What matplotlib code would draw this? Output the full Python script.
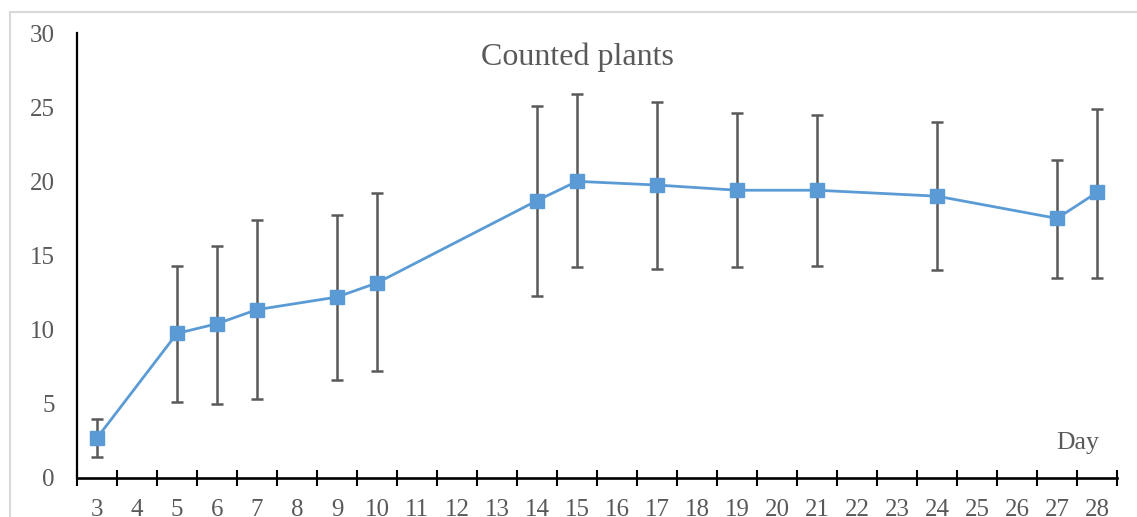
import matplotlib
matplotlib.use("Agg")
import matplotlib.pyplot as plt
from matplotlib.patches import Rectangle
from matplotlib.ticker import FixedLocator

# ---- data ----
categories = [str(d) for d in range(3, 29)]
days = [3, 5, 6, 7, 9, 10, 14, 15, 17, 19, 21, 24, 27, 28]
mean_plants = [2.7, 9.75, 10.4, 11.35, 12.2, 13.15, 18.7, 20.0, 19.75, 19.4, 19.4, 19.0, 17.5, 19.25]
upper_plants = [3.95, 14.3, 15.65, 17.4, 17.75, 19.2, 25.1, 25.9, 25.35, 24.6, 24.5, 24.0, 21.45, 24.85]
lower_plants = [1.4, 5.1, 5.0, 5.3, 6.6, 7.2, 12.3, 14.2, 14.1, 14.2, 14.3, 14.0, 13.5, 13.5]
y_ticks = [0, 5, 10, 15, 20, 25, 30]
title_text = "Counted plants"
x_label_text = "Day"

# ---- style ----
FONT = ["Liberation Serif", "DejaVu Serif"]
TEXT_COLOR = "#595959"
LINE_COLOR = "#5B9BD5"
ERR_COLOR = "#595959"

W, H, DPI = 1137, 517, 100
fig = plt.figure(figsize=(W / DPI, H / DPI), dpi=DPI)
fig.patch.set_facecolor("white")

# outer chart frame (light gray border, cropped at right/bottom)
fig.patches.append(Rectangle((10 / W, -0.1), 1.2, (H - 12) / H + 0.1,
                             transform=fig.transFigure, fill=False,
                             edgecolor="#d9d9d9", linewidth=1.5))

left, right, bottom, top = 77, 1117, 478, 33
ax = fig.add_axes([left / W, (H - bottom) / H, (right - left) / W, (bottom - top) / H])
ax.set_facecolor("none")

xpos = [categories.index(str(d)) for d in days]
yerr = [[m - l for m, l in zip(mean_plants, lower_plants)],
        [u - m for m, u in zip(mean_plants, upper_plants)]]

ax.errorbar(xpos, mean_plants, yerr=yerr, fmt="none", ecolor=ERR_COLOR,
            elinewidth=1.8, capsize=4.5, capthick=1.8, zorder=2)
ax.plot(xpos, mean_plants, color=LINE_COLOR, linewidth=2.0, marker="s",
        markersize=9.5, markerfacecolor=LINE_COLOR, markeredgecolor=LINE_COLOR,
        zorder=3, clip_on=False)

ax.set_xlim(-0.5, len(categories) - 0.5)
ax.set_ylim(0, 30)

# spines
for s in ["top", "right"]:
    ax.spines[s].set_visible(False)
ax.spines["left"].set_linewidth(1.6)
ax.spines["bottom"].set_linewidth(1.9)
ax.spines["left"].set_color("black")
ax.spines["bottom"].set_color("black")

# x ticks
ax.set_xticks(range(len(categories)))
ax.set_xticklabels(categories)
ax.xaxis.set_minor_locator(FixedLocator([i - 0.5 for i in range(len(categories) + 1)]))
ax.tick_params(axis="x", which="major", length=0, pad=15, labelsize=18,
               labelcolor=TEXT_COLOR)
ax.tick_params(axis="x", which="minor", direction="inout", length=11, width=1.5,
               color="black")

# y ticks
ax.set_yticks(y_ticks)
ax.tick_params(axis="y", which="major", length=0, pad=16, labelsize=18,
               labelcolor=TEXT_COLOR)

for lbl in ax.get_xticklabels() + ax.get_yticklabels():
    lbl.set_fontfamily(FONT)

ax.text(0.4808, 0.946, title_text, transform=ax.transAxes, ha="center", va="center",
        fontsize=23, color=TEXT_COLOR, family=FONT)
ax.text(0.9625, 0.079, x_label_text, transform=ax.transAxes, ha="center", va="center",
        fontsize=18.5, color=TEXT_COLOR, family=FONT)

fig.savefig("out.png", dpi=DPI)
